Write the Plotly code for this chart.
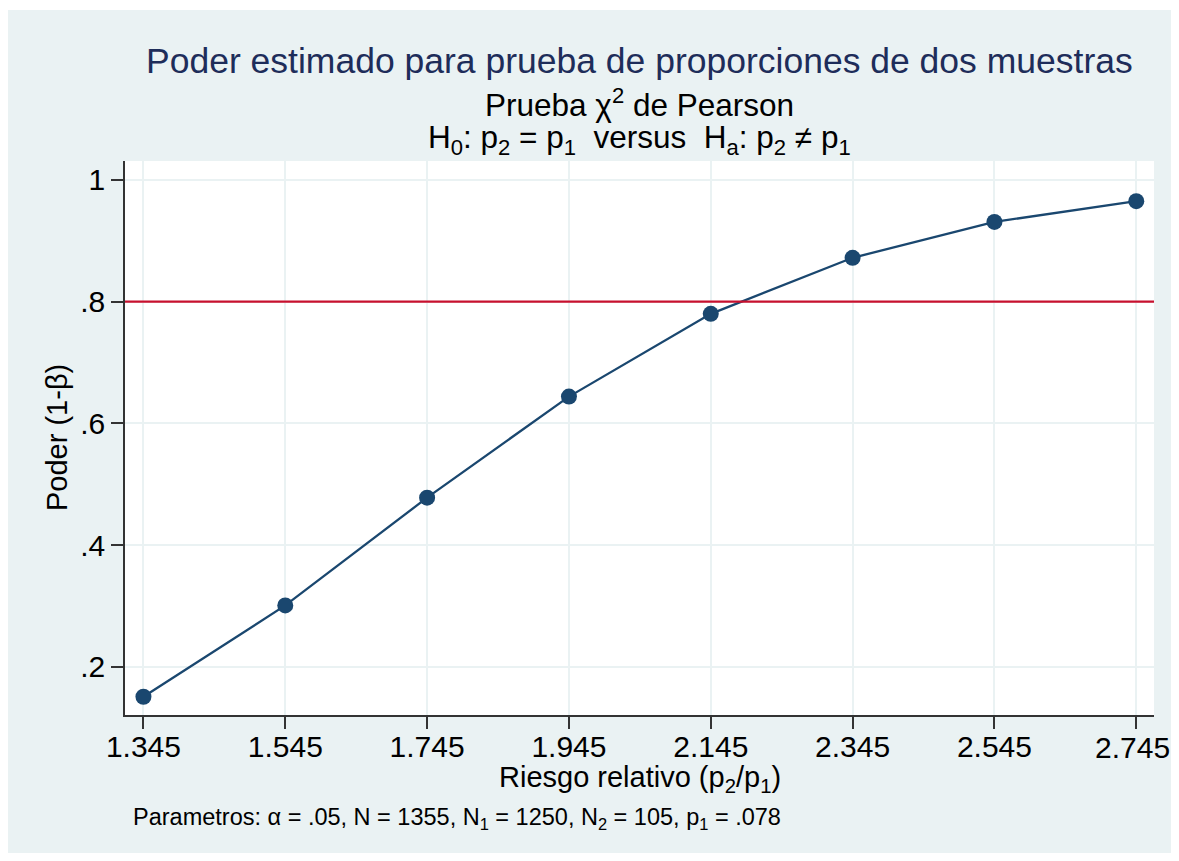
import plotly.graph_objects as go

# Data
riesgo_relativo = [1.345, 1.545, 1.745, 1.945, 2.145, 2.345, 2.545, 2.745]
poder = [0.151, 0.301, 0.478, 0.644, 0.780, 0.872, 0.931, 0.965]
poder_objetivo = 0.8
x_ticks = [1.345, 1.545, 1.745, 1.945, 2.145, 2.345, 2.545, 2.745]
x_ticklabels = ["1.345", "1.545", "1.745", "1.945", "2.145", "2.345", "2.545", "2.745"]
y_ticks = [0.2, 0.4, 0.6, 0.8, 1.0]
y_ticklabels = [".2", ".4", ".6", ".8", "1"]

# page has an 8px default body margin on every side
OFF = 8
W, H = 1179 - 2 * OFF, 861 - 2 * OFF
L, T = 125 - OFF, 161 - OFF
R = W - (1154 - OFF)
B = H - (715 - OFF)
FONT = "Liberation Sans, Arial, sans-serif"
BG = "#EAF2F3"
NAVY = "#1A476F"
TICKFONT = dict(size=30, family=FONT, color="black")

fig = go.Figure()
fig.add_trace(go.Scatter(
    x=riesgo_relativo, y=poder, mode="lines+markers",
    line=dict(color=NAVY, width=2.3),
    marker=dict(color=NAVY, size=16),
    showlegend=False, cliponaxis=False,
))
fig.add_hline(y=poder_objetivo, line=dict(color="#C8102E", width=2.2))

pw = W - L - R
ph = H - T - B
def px_x(px):  # px in reference-image coordinates
    return (px - OFF - L) / pw
def px_y(py):
    return 1 - (py - OFF - T) / ph

# extra white strip at top (reference has 10px white at top)
fig.add_shape(type="rect", xref="paper", yref="paper", x0=px_x(0), x1=px_x(1179),
              y0=px_y(10), y1=px_y(0), fillcolor="white", line_width=0, layer="below")

fig.update_layout(
    width=W, height=H,
    margin=dict(l=L, r=R, t=T, b=B),
    paper_bgcolor=BG, plot_bgcolor="white",
    font=dict(family=FONT, color="black", size=24),
    showlegend=False,
)
# last x tick label sits at the figure's right edge; it is drawn as an annotation
fig.update_xaxes(
    range=[1.319, 2.770], tickvals=x_ticks, ticktext=x_ticklabels[:-1] + [""],
    showgrid=True, gridcolor=BG, gridwidth=2, zeroline=False,
    showline=True, linecolor="#333333", linewidth=1.5,
    ticks="outside", ticklen=12, tickwidth=1.5, tickcolor="#333333",
    ticklabelstandoff=-8,
    tickfont=TICKFONT,
)
fig.update_yaxes(
    range=[0.121, 1.031], tickvals=y_ticks, ticktext=y_ticklabels,
    showgrid=True, gridcolor=BG, gridwidth=2, zeroline=False,
    showline=True, linecolor="#333333", linewidth=1.5,
    ticks="outside", ticklen=12, tickwidth=1.5, tickcolor="#333333",
    tickfont=TICKFONT,
)
fig.add_annotation(text=x_ticklabels[-1], xref="paper", yref="paper",
                   x=(W - L) / pw, y=px_y(747), xanchor="right", yanchor="middle",
                   showarrow=False, font=TICKFONT, borderpad=0)

xc = 0.5
fig.add_annotation(text="Poder estimado para prueba de proporciones de dos muestras",
                   xref="paper", yref="paper", x=xc, y=px_y(61), yanchor="middle", xanchor="center",
                   showarrow=False, font=dict(size=35.5, family=FONT, color="#1E2D5A"))
fig.add_annotation(text="Prueba χ<sup>2</sup> de Pearson",
                   xref="paper", yref="paper", x=xc, y=px_y(103), yanchor="middle", xanchor="center",
                   showarrow=False, font=dict(size=31.5, family=FONT, color="black"))
fig.add_annotation(text="H<sub>0</sub>: p<sub>2</sub> = p<sub>1</sub>  versus  H<sub>a</sub>: p<sub>2</sub> ≠ p<sub>1</sub>",
                   xref="paper", yref="paper", x=xc, y=px_y(139), yanchor="middle", xanchor="center",
                   showarrow=False, font=dict(size=31.5, family=FONT, color="black"))
fig.add_annotation(text="Riesgo relativo (p<sub>2</sub>/p<sub>1</sub>)",
                   xref="paper", yref="paper", x=xc, y=px_y(779), yanchor="middle", xanchor="center",
                   showarrow=False, font=dict(size=29, family=FONT, color="black"))
fig.add_annotation(text="Poder (1-β)", textangle=-90,
                   xref="paper", yref="paper", x=px_x(57), y=0.5, yanchor="middle", xanchor="center",
                   showarrow=False, font=dict(size=29, family=FONT, color="black"))
fig.add_annotation(text="Parametros: α = .05, N = 1355, N<sub>1</sub> = 1250, N<sub>2</sub> = 105, p<sub>1</sub> = .078",
                   xref="paper", yref="paper", x=px_x(131), y=px_y(818), yanchor="middle", xanchor="left",
                   showarrow=False, font=dict(size=23.5, family=FONT, color="black"))

fig.write_html("out.html")
